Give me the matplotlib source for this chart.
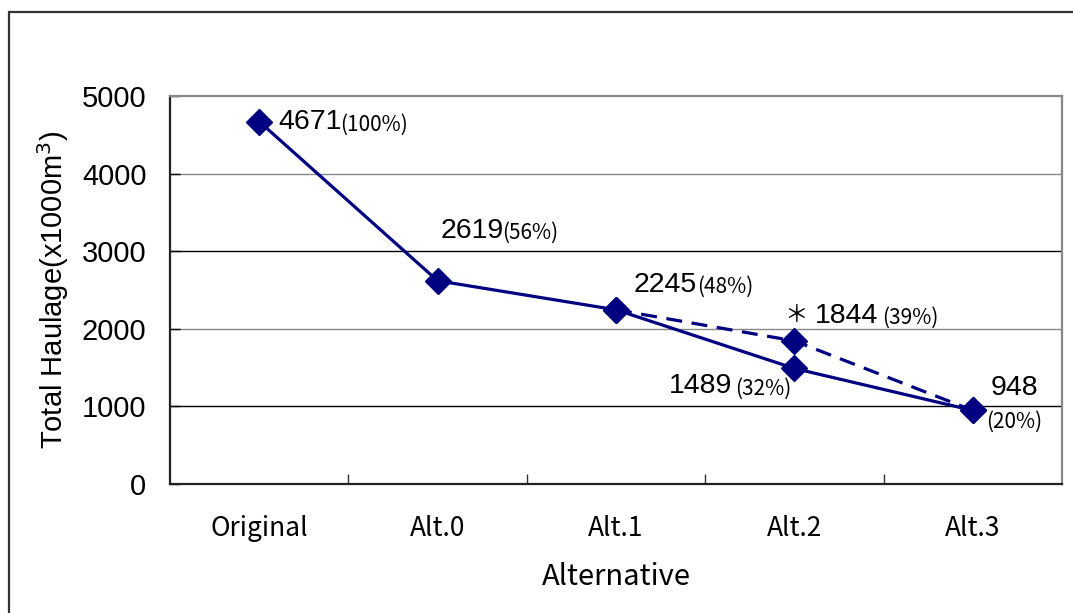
import matplotlib.pyplot as plt
from matplotlib.patches import Rectangle

categories = ["Original", "Alt.0", "Alt.1", "Alt.2", "Alt.3"]
haulage = [4671, 2619, 2245, 1489, 948]
share = ["(100%)", "(56%)", "(48%)", "(32%)", "(20%)"]

# dashed variant from Alt.1 to Alt.3
alt_idx = [2, 3, 4]
alt_haulage = [2245, 1844, 948]
alt_share = ["", "(39%)", ""]

navy = "#000080"
jp = ["Noto Sans CJK JP", "DejaVu Sans"]
num_font = "Liberation Sans"

fig = plt.figure(figsize=(10.73, 6.13), dpi=100)
ax = fig.add_axes([170 / 1073, 129 / 613, 892 / 1073, 388 / 613])

# outer chart frame
fig.patches.append(Rectangle((9 / 1073, -0.1), 1.2, 1.1 - 12 / 613, transform=fig.transFigure,
                             fill=False, edgecolor="#333333", linewidth=1.6))

xs = list(range(len(categories)))
ax.plot(xs, haulage, color=navy, linewidth=2.3, marker="D", markersize=13, zorder=4)
ax.plot(alt_idx, alt_haulage, color=navy, linewidth=2.3, linestyle=(0, (5, 3)),
        marker="D", markersize=13, zorder=3)

ax.set_xlim(-0.5, 4.5)
ax.set_ylim(0, 5000)
ax.set_yticks([0, 1000, 2000, 3000, 4000, 5000])
for v, c in [(1000, "#000000"), (2000, "#888888"), (3000, "#000000"), (4000, "#888888")]:
    ax.axhline(v, color=c, linewidth=1.0, zorder=1)

ax.set_xticks(xs)
ax.set_xticklabels(categories, family=jp, fontsize=19)
ax.set_xticks([0.5, 1.5, 2.5, 3.5], minor=True)
ax.tick_params(axis="x", which="major", length=0, pad=22)
ax.tick_params(axis="x", which="minor", direction="in", length=7, width=1, color="#333333")
ax.tick_params(axis="y", direction="in", length=7, width=1, pad=17, labelsize=21)
for lab in ax.get_yticklabels():
    lab.set_family(num_font)

for s in ["top", "right"]:
    ax.spines[s].set_color("#888888")
    ax.spines[s].set_linewidth(1.6)
for s in ["left", "bottom"]:
    ax.spines[s].set_color("#222222")
    ax.spines[s].set_linewidth(1.6)

ax.set_ylabel("Total Haulage(x1000m$^3$)", family=num_font, fontsize=21, labelpad=8)
ax.set_xlabel("Alternative", family=jp, fontsize=21, labelpad=15)

# value labels: offsets in pixels from the point, percent part drawn separately
num_off = [(19, 0), (3, 50), (18, 25), (-62, -18), (18, 22)]
pct_off = [(81, -3), (65, 48), (81, 23), (-3, -20), (13, -11)]
num_ha = ["left", "left", "left", "right", "left"]
pct_ha = ["left", "left", "left", "right", "left"]
for i, (v, p) in enumerate(zip(haulage, share)):
    dx, dy = num_off[i]
    px, py = pct_off[i]
    ax.annotate(str(v), (i, v), xytext=(dx, dy), textcoords="offset pixels",
                ha=num_ha[i], va="center", family=num_font, fontsize=20.5)
    ax.annotate(p, (i, v), xytext=(px, py), textcoords="offset pixels",
                ha=pct_ha[i], va="center", family=jp, fontsize=15)

ax.annotate("＊", (alt_idx[1], alt_haulage[1]), xytext=(-10, 25),
            textcoords="offset pixels", ha="left", va="center", family=jp, fontsize=17)
ax.annotate(str(alt_haulage[1]), (alt_idx[1], alt_haulage[1]), xytext=(20, 25),
            textcoords="offset pixels", ha="left", va="center", family=num_font, fontsize=20.5)
ax.annotate(alt_share[1], (alt_idx[1], alt_haulage[1]), xytext=(88, 23),
            textcoords="offset pixels", ha="left", va="center", family=jp, fontsize=15)

fig.savefig("out.png", dpi=100)
